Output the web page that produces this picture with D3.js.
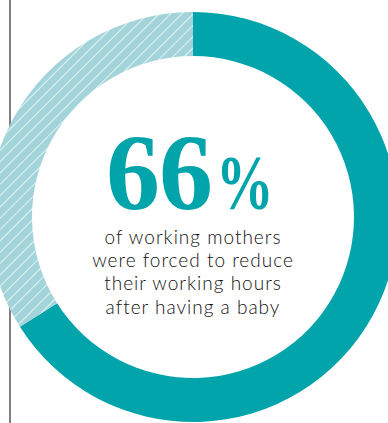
<!DOCTYPE html>
<html><head><meta charset="utf-8">
<script src="https://cdn.jsdelivr.net/npm/d3@7"></script>
<style>html,body{margin:0;padding:0;background:#fff;overflow:hidden}</style>
</head><body>
<script>
const categories = ["Forced to reduce hours", "Other"];
const values = [66, 34];
const headline = "66";
const headlineUnit = "%";
const captionLines = ["of working mothers", "were forced to reduce", "their working hours", "after having a baby"];

const W = 388, H = 423;
const cx = 193, cy = 217, rOuter = 205, rInner = 161;
const svg = d3.select("body").append("svg").attr("width", W).attr("height", H);

const defs = svg.append("defs");
const pat = defs.append("pattern").attr("id", "hatch").attr("patternUnits", "userSpaceOnUse")
  .attr("width", 8).attr("height", 8).attr("patternTransform", "rotate(45)");
pat.append("rect").attr("width", 8).attr("height", 8).attr("fill", "#a3d4da");
pat.append("line").attr("x1", 0).attr("y1", 0).attr("x2", 0).attr("y2", 8)
  .attr("stroke", "#fff").attr("stroke-width", 1.4);

svg.append("line").attr("x1", 10).attr("x2", 10).attr("y1", 0).attr("y2", H)
  .attr("stroke", "#808080").attr("stroke-width", 2);

const pie = d3.pie().sort(null).value(d => d)(values);
const arc = d3.arc().innerRadius(rInner).outerRadius(rOuter);
const fills = ["#00a4aa", "url(#hatch)"];
svg.append("g").attr("transform", `translate(${cx},${cy})`)
  .selectAll("path").data(pie).join("path")
  .attr("d", arc).attr("fill", (d, i) => fills[i]);

svg.append("text").attr("x", 106).attr("y", 209).attr("text-anchor", "start")
  .attr("font-family", "Liberation Serif, serif").attr("font-weight", "bold").attr("fill", "#00a4aa")
  .attr("font-size", 108).attr("letter-spacing", -1).text(headline);
svg.append("text").attr("transform", "translate(216,209) scale(0.74,1)")
  .attr("font-family", "Liberation Serif, serif").attr("font-weight", "bold").attr("fill", "#00a4aa")
  .attr("font-size", 78).text(headlineUnit);

svg.append("g").selectAll("text").data(captionLines).join("text")
  .attr("x", 193).attr("y", (d, i) => 244 + i * 23.2)
  .attr("text-anchor", "middle").attr("font-family", "Lato, sans-serif").attr("font-weight", 300)
  .attr("font-size", 19).attr("letter-spacing", 1.0).attr("fill", "#111").text(d => d);
</script>
</body></html>
